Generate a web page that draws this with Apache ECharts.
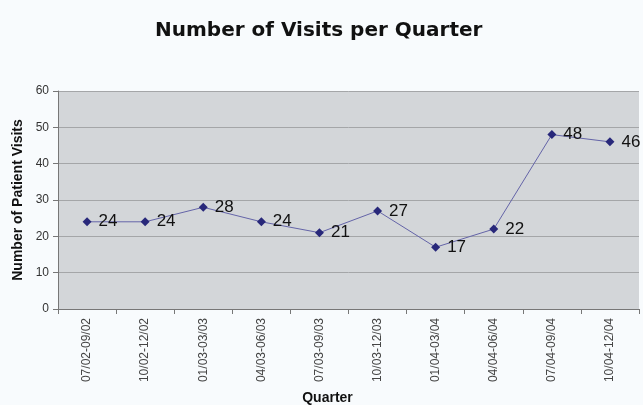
<!DOCTYPE html>
<html><head><meta charset="utf-8">
<script src="https://cdn.jsdelivr.net/npm/echarts@6/dist/echarts.min.js"></script>
<style>html,body{margin:0;padding:0;background:#f8fbfd;}#c{width:643px;height:405px;}</style>
</head><body><div id="c"></div>
<script>
const categories = ['07/02-09/02','10/02-12/02','01/03-03/03','04/03-06/03','07/03-09/03','10/03-12/03','01/04-03/04','04/04-06/04','07/04-09/04','10/04-12/04'];
const visits = [24, 24, 28, 24, 21, 27, 17, 22, 48, 46];
const yTicks = {min: 0, max: 60, interval: 10};

const chart = echarts.init(document.getElementById('c'), null, {renderer: 'canvas'});
chart.setOption({
  backgroundColor: '#f8fbfd',
  animation: false,
  title: {
    text: 'Number of Visits per Quarter',
    left: 150, top: 16,
    textStyle: {fontFamily: 'DejaVu Sans', fontWeight: 'bold', fontSize: 20, color: '#111'}
  },
  grid: {left: 58, right: 4, top: 91, bottom: 96, show: true, backgroundColor: '#d3d6d9', borderWidth: 0,
         containLabel: false, outerBoundsMode: 'none'},
  xAxis: {
    type: 'category', data: categories, boundaryGap: true,
    name: 'Quarter', nameLocation: 'middle', nameGap: 82,
    nameTextStyle: {fontFamily: 'Liberation Sans', fontWeight: 'bold', fontSize: 14, color: '#111', padding: [0, 42, 0, 0]},
    axisLine: {lineStyle: {color: '#777', width: 1}},
    axisTick: {show: true, alignWithLabel: false, length: 5, lineStyle: {color: '#777'}},
    axisLabel: {rotate: 90, fontFamily: 'Liberation Sans', fontSize: 12, color: '#444', margin: 9}
  },
  yAxis: {
    type: 'value', min: yTicks.min, max: yTicks.max, interval: yTicks.interval,
    name: 'Number of Patient Visits', nameLocation: 'middle', nameGap: 33, nameRotate: 90,
    nameTextStyle: {fontFamily: 'Liberation Sans', fontWeight: 'bold', fontSize: 14, color: '#111'},
    axisLine: {show: true, lineStyle: {color: '#777'}},
    axisTick: {show: true, length: 5, lineStyle: {color: '#777'}},
    axisLabel: {fontFamily: 'Liberation Sans', fontSize: 12, color: '#333', margin: 9},
    splitLine: {show: true, lineStyle: {color: '#a4a6a8', width: 1}}
  },
  series: [{
    type: 'line', data: visits,
    symbol: 'diamond', symbolSize: 9,
    itemStyle: {color: '#28287a'},
    lineStyle: {color: '#6464a8', width: 1},
    label: {show: true, position: 'right', distance: 7, fontFamily: 'Liberation Sans', fontSize: 17, color: '#111'}
  }]
});
</script></body></html>
